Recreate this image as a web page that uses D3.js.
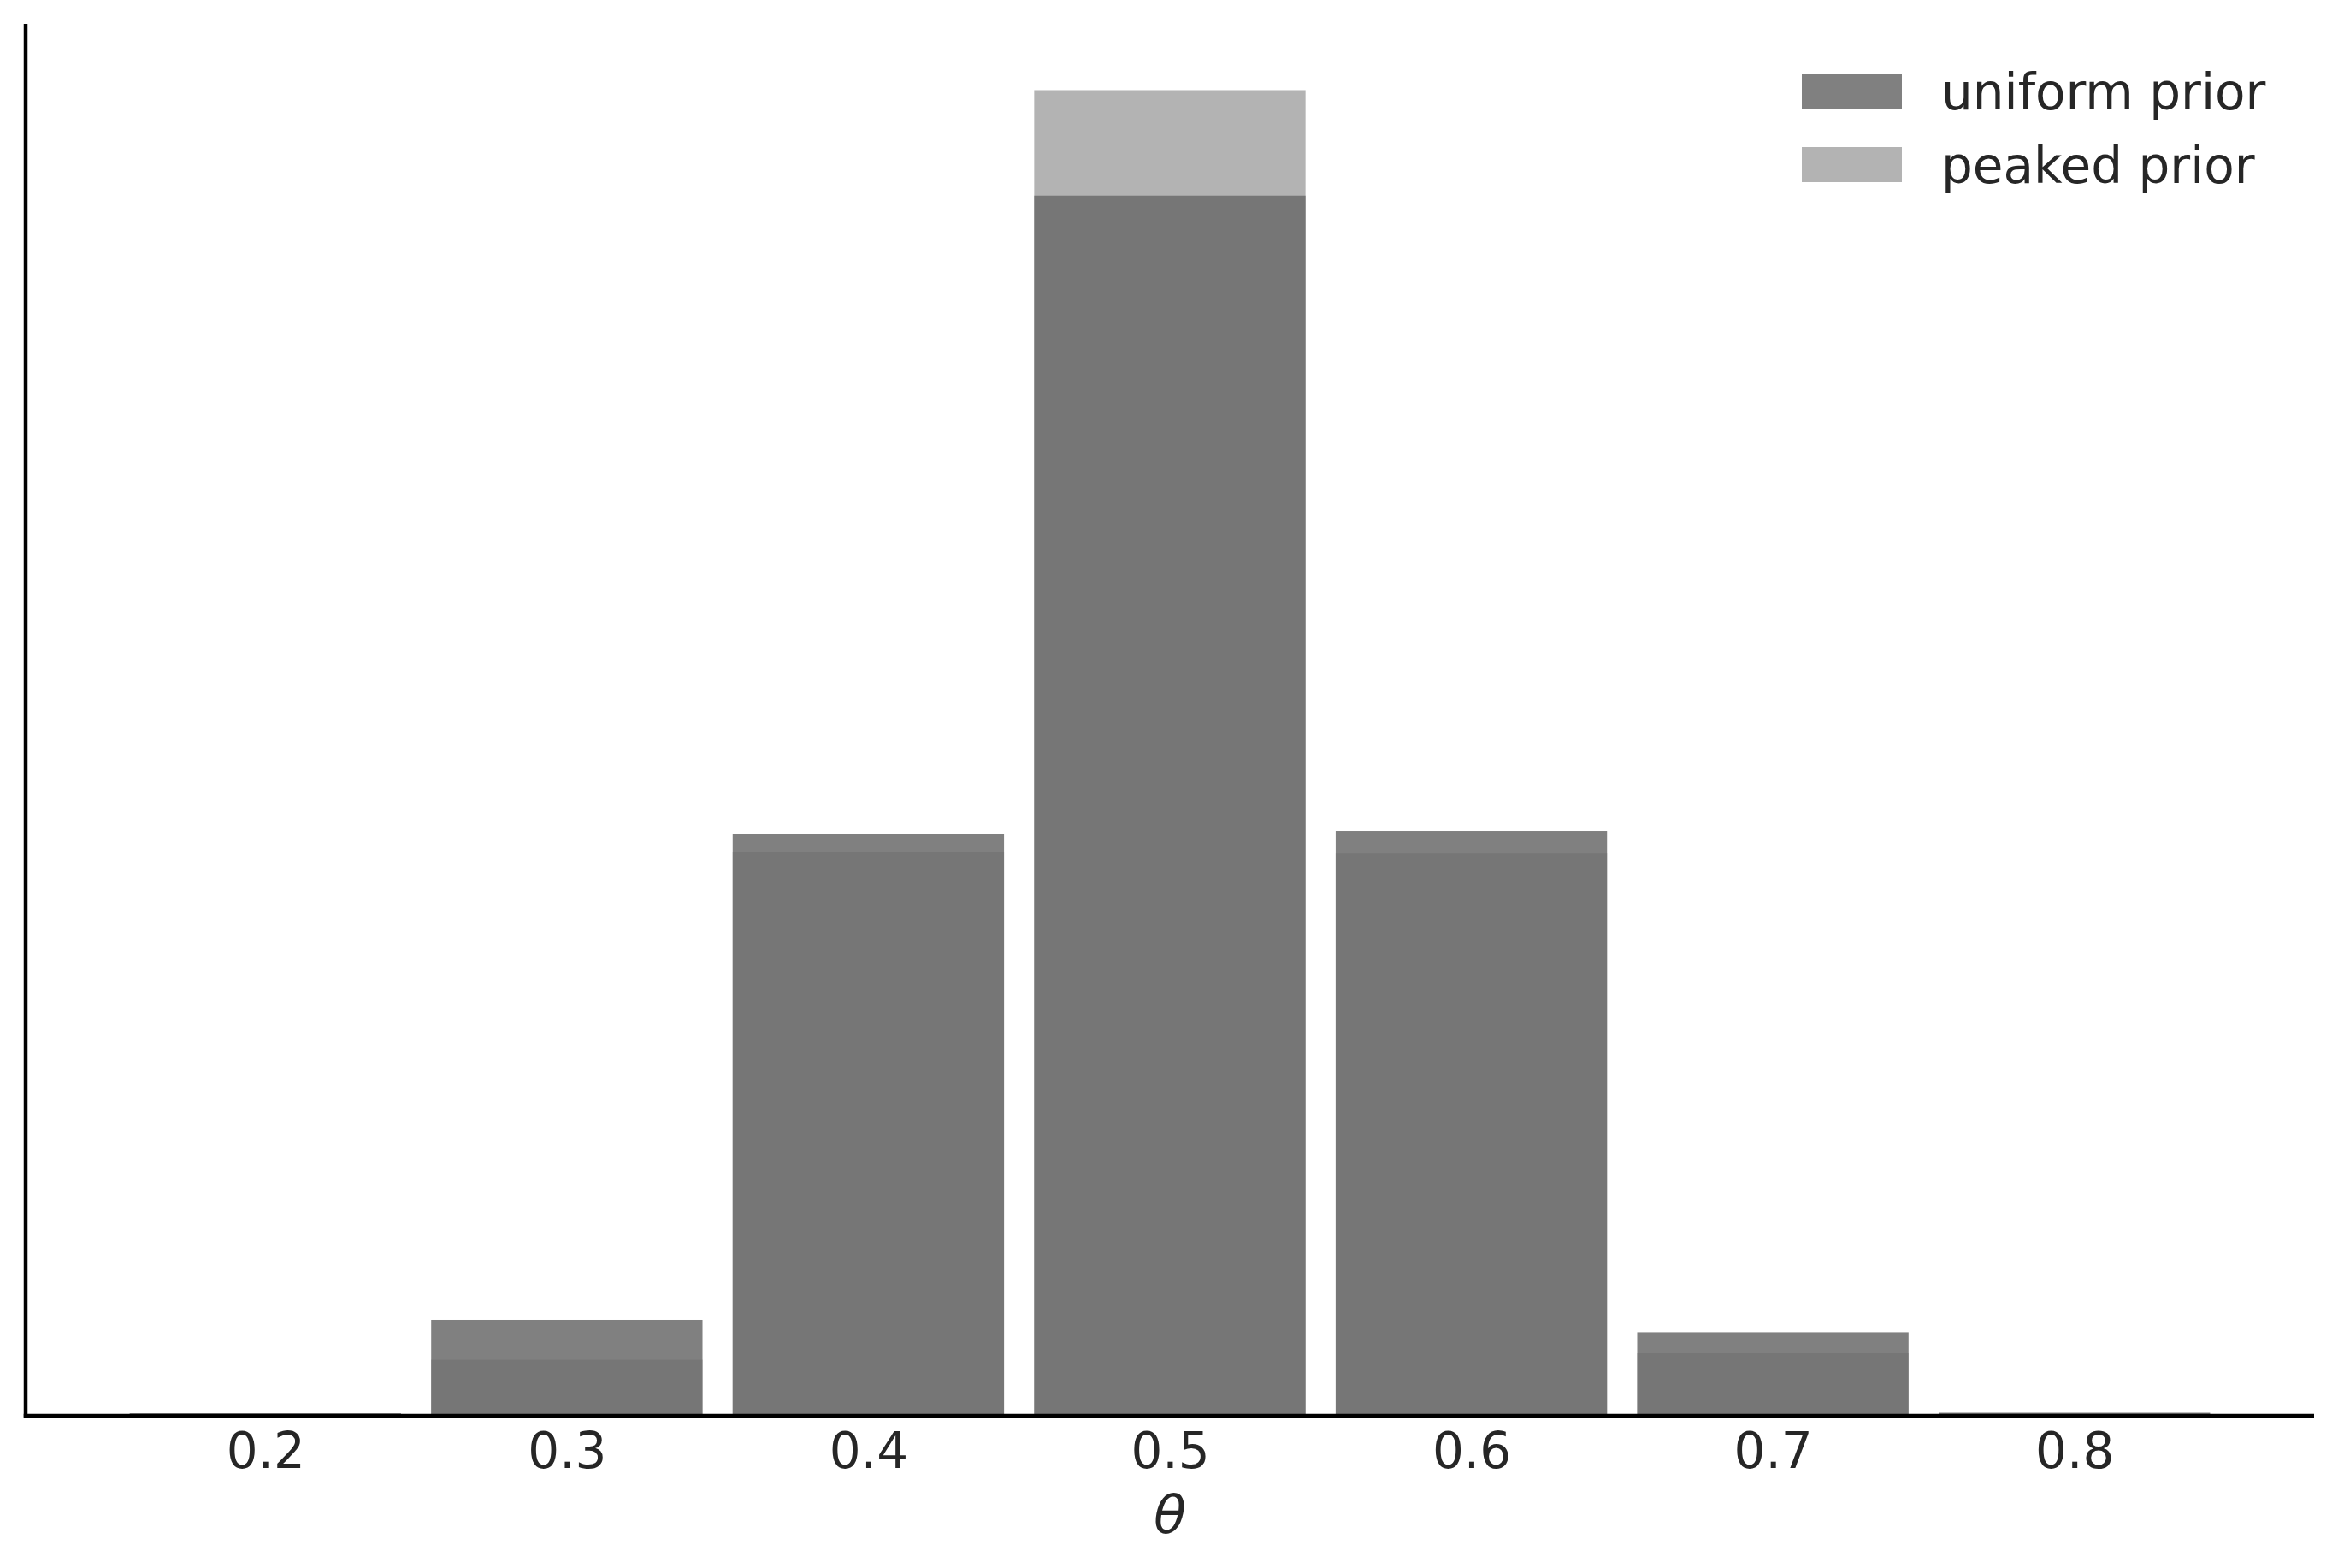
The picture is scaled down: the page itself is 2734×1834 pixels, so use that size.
<!DOCTYPE html>
<html><head><meta charset="utf-8">
<script src="https://cdn.jsdelivr.net/npm/d3@7"></script>
<style>body{margin:0;background:#fff}svg{display:block}</style>
</head><body>
<script>
const thetas = [0.2, 0.3, 0.4, 0.5, 0.6, 0.7, 0.8];
const uniformPrior = [0.0008, 0.0371, 0.2264, 0.4747, 0.2274, 0.0323, 0.0010];
const peakedPrior  = [0.0004, 0.0216, 0.2194, 0.5157, 0.2187, 0.0243, 0.0007];
const tickLabels = ["0.2","0.3","0.4","0.5","0.6","0.7","0.8"];
const seriesNames = ["uniform prior", "peaked prior"];

const W = 2734, H = 1834;
const L = 30, R = 2706, T = 28, B = 1655.5;
const fs = 58;
const svg = d3.select("body").append("svg").attr("width", W).attr("height", H);

const x = d3.scaleLinear().domain([0.1205, 0.8795]).range([L, R]);
const yMax = d3.max(uniformPrior.concat(peakedPrior)) * 1.05;
const y = d3.scaleLinear().domain([0, yMax]).range([B, T]);
const bw = x(0.09) - x(0);

svg.append("g").selectAll("rect").data(thetas).join("rect")
  .attr("x", d => x(d) - bw/2).attr("width", bw)
  .attr("y", (d,i) => y(uniformPrior[i])).attr("height", (d,i) => B - y(uniformPrior[i]))
  .attr("fill", "#808080");
svg.append("g").selectAll("rect").data(thetas).join("rect")
  .attr("x", d => x(d) - bw/2).attr("width", bw)
  .attr("y", (d,i) => y(peakedPrior[i])).attr("height", (d,i) => B - y(peakedPrior[i]))
  .attr("fill", "#6d6d6d").attr("fill-opacity", 0.52);

// x axis
const xAxis = d3.axisBottom(x).tickValues(thetas).tickFormat((d,i) => tickLabels[i]).tickSize(0).tickPadding(0);
const gx = svg.append("g").attr("transform", `translate(0,${B})`).call(xAxis);
gx.select(".domain").remove();
gx.selectAll("text").attr("font-family", "DejaVu Sans").attr("font-size", fs).attr("fill", "#262626")
  .attr("dy", null).attr("y", 1717 - B).attr("dominant-baseline", "alphabetic");

// spines
svg.append("line").attr("x1", L).attr("x2", L).attr("y1", T).attr("y2", B + 2.25).attr("stroke", "#000").attr("stroke-width", 4.5);
svg.append("line").attr("x1", L - 2.25).attr("x2", R).attr("y1", B + 0.5).attr("y2", B + 0.5).attr("stroke", "#000").attr("stroke-width", 4.5);

// x label
svg.append("text").attr("x", x(0.5)).attr("y", 1793).attr("text-anchor", "middle")
  .attr("font-family", "DejaVu Sans").attr("font-style", "italic").attr("font-size", 62).attr("fill", "#262626").text("θ");

// legend
const legColors = [{fill:"#808080", op:1}, {fill:"#6d6d6d", op:0.52}];
const legY = [86, 172];
const lg = svg.append("g");
seriesNames.forEach((n, i) => {
  lg.append("rect").attr("x", 2107).attr("y", legY[i]).attr("width", 117).attr("height", 41)
    .attr("fill", legColors[i].fill).attr("fill-opacity", legColors[i].op);
  lg.append("text").attr("x", 2270).attr("y", legY[i] + 42).attr("font-family", "DejaVu Sans")
    .attr("font-size", fs).attr("fill", "#262626").text(n);
});
</script>
</body></html>
